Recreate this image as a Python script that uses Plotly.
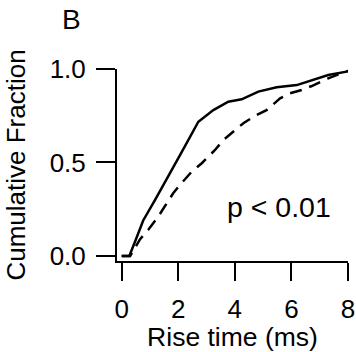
import plotly.graph_objects as go

# Solid curve (control)
solid_x = [0.0, 0.27, 0.47, 0.76, 1.18, 1.65, 2.12, 2.71, 3.24, 3.77, 4.24, 4.83, 5.48, 6.19, 6.77, 7.30, 7.95, 8.0]
solid_y = [0.0, 0.0, 0.076, 0.19, 0.30, 0.424, 0.555, 0.718, 0.78, 0.825, 0.838, 0.879, 0.902, 0.914, 0.941, 0.968, 0.986, 0.99]

# Dashed curve
dash_x = [0.0, 0.3, 0.65, 0.94, 1.29, 1.53, 1.82, 2.06, 2.47, 2.83, 3.30, 3.59, 4.0, 4.30, 4.77, 5.12, 5.60, 5.95, 6.36, 6.72, 7.3, 8.0]
dash_y = [0.0, 0.0, 0.09, 0.14, 0.21, 0.264, 0.335, 0.38, 0.45, 0.496, 0.567, 0.62, 0.674, 0.71, 0.754, 0.78, 0.843, 0.87, 0.888, 0.909, 0.95, 0.99]

x_ticks = [0, 2, 4, 6, 8]
y_ticks = [0.0, 0.5, 1.0]

FONT = "Liberation Sans, Arial, sans-serif"

fig = go.Figure()
fig.add_trace(go.Scatter(x=dash_x, y=dash_y, mode="lines",
                         line=dict(color="black", width=2.5, dash="12px,8px")))
fig.add_trace(go.Scatter(x=solid_x, y=solid_y, mode="lines",
                         line=dict(color="black", width=2.5)))

fig.update_layout(
    width=356, height=352,
    margin=dict(l=117, r=8, t=69, b=91, autoexpand=False),
    plot_bgcolor="white", paper_bgcolor="white",
    showlegend=False,
    font=dict(family=FONT, size=26, color="black"),
    xaxis=dict(range=[-0.166, 8], tickvals=x_ticks, ticktext=[str(v) for v in x_ticks],
               showline=True, linecolor="black", linewidth=2,
               ticks="outside", ticklen=18, tickwidth=2, tickcolor="black",
               showgrid=False, zeroline=False, automargin=False,
               ticklabelstandoff=6,
               tickfont=dict(family=FONT, size=26),
               title=dict(text="Rise time (ms)", font=dict(family=FONT, size=26.5), standoff=7)),
    yaxis=dict(range=[-0.027, 1.0], tickvals=y_ticks, ticktext=["0.0", "0.5", "1.0"],
               showline=True, linecolor="black", linewidth=2,
               ticks="outside", ticklen=19, tickwidth=2, tickcolor="black",
               showgrid=False, zeroline=False, automargin=False,
               ticklabelstandoff=5,
               tickfont=dict(family=FONT, size=26),
               title=dict(text="Cumulative Fraction", font=dict(family=FONT, size=26), standoff=17)),
    annotations=[
        dict(text="B", xref="paper", yref="paper", x=-0.199, y=1.258,
             showarrow=False, font=dict(family=FONT, size=28), xanchor="center", yanchor="middle"),
        dict(text="p < 0.01", xref="x", yref="y", x=5.56, y=0.26,
             showarrow=False, font=dict(family=FONT, size=28.5), xanchor="center", yanchor="middle"),
    ],
)

fig.write_html("out.html")
